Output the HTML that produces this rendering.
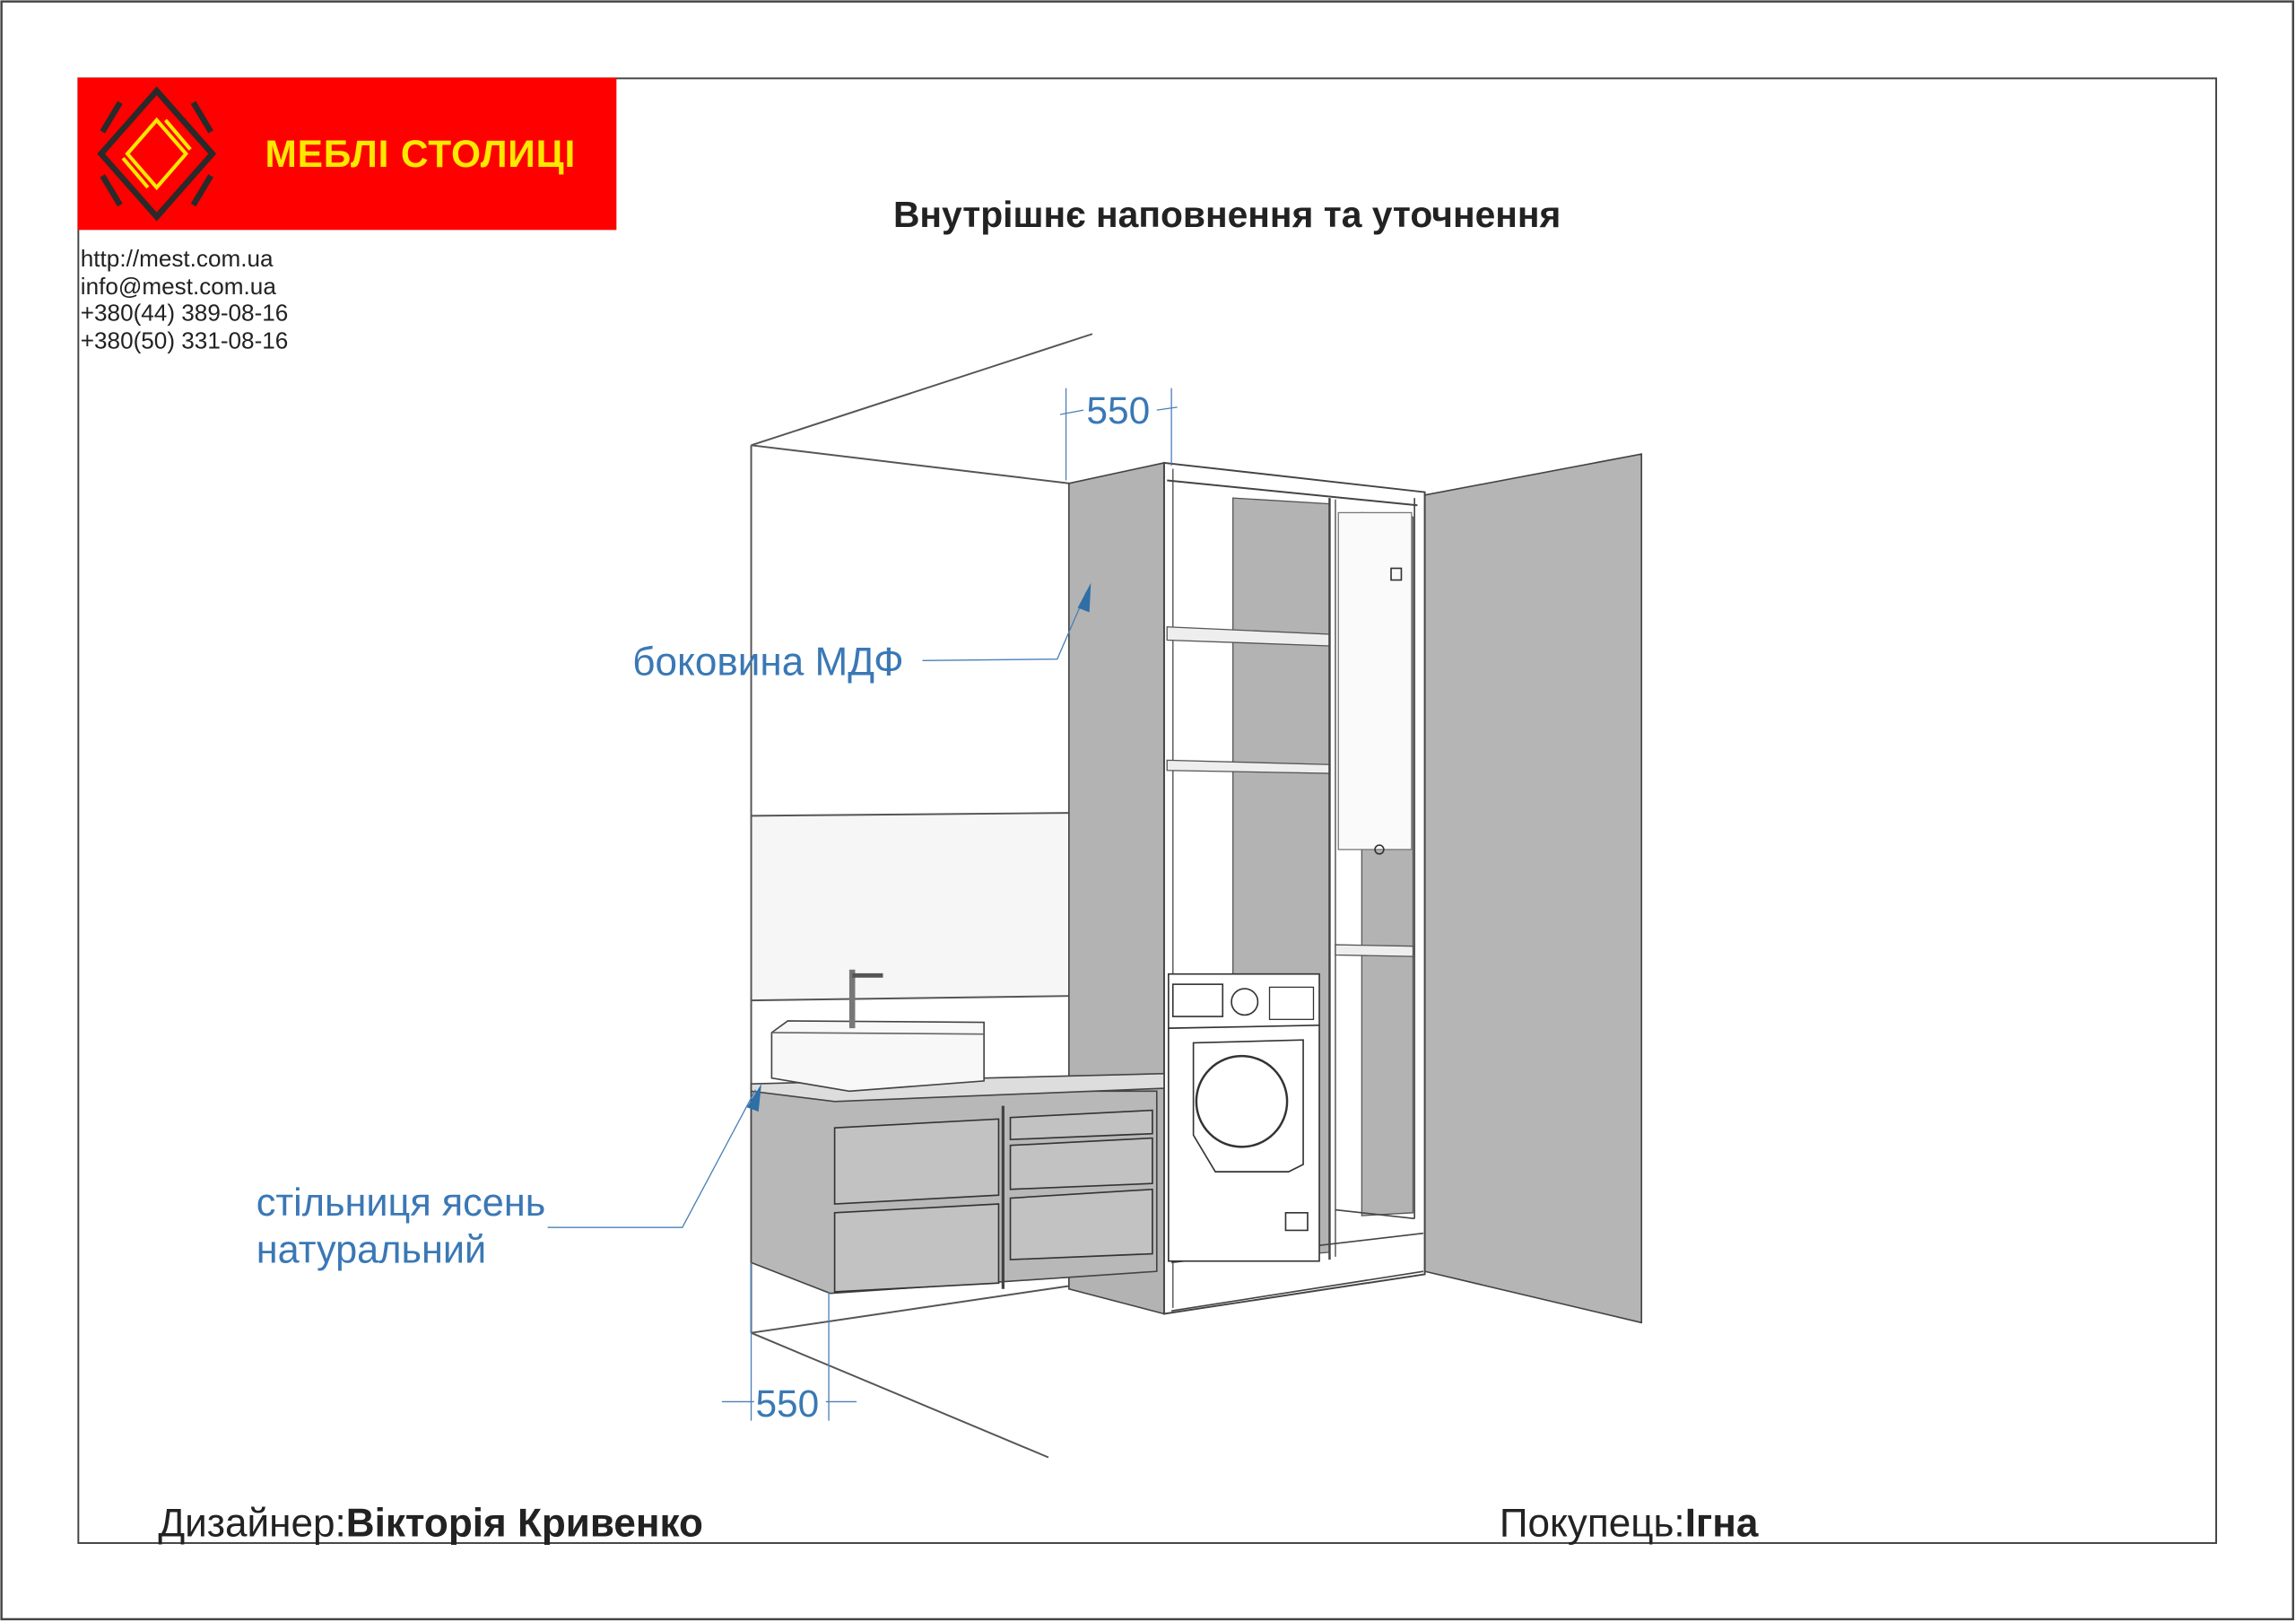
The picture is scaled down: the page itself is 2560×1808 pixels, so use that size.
<!DOCTYPE html>
<html><head><meta charset="utf-8"><style>
html,body{margin:0;padding:0;background:#fff;}
svg{display:block;}
text{font-family:"Liberation Sans","DejaVu Sans",sans-serif;}
</style></head><body>
<svg width="2560" height="1808" viewBox="0 0 1568 1107.4" xmlns="http://www.w3.org/2000/svg">
<rect x="0" y="0" width="1568" height="1107.4" fill="#fff"/>
<rect x="1" y="1" width="1565" height="1104.5" fill="none" stroke="#444" stroke-width="1.5"/>
<rect x="53.5" y="53.5" width="1460" height="1000" fill="none" stroke="#444" stroke-width="1.2"/>
<!-- logo -->
<rect x="53" y="53" width="368" height="104" fill="#fe0000"/>
<g fill="none" stroke="#2a2a2a" stroke-width="4">
<polygon points="107,62 145,105 107,148 69,105"/>
</g>
<g stroke="#2a2a2a" stroke-width="4">
<line x1="82" y1="70" x2="70" y2="90"/><line x1="132" y1="70" x2="144" y2="90"/>
<line x1="82" y1="140" x2="70" y2="120"/><line x1="132" y1="140" x2="144" y2="120"/>
</g>
<g fill="none" stroke="#ffe800" stroke-width="2.5">
<polygon points="107,82 127,105 107,128 87,105"/>
<line x1="113" y1="82" x2="130" y2="102"/><line x1="101" y1="128" x2="84" y2="108"/>
</g>
<text x="181" y="114" font-size="26" font-weight="bold" fill="#ffe800" letter-spacing="0.5">МЕБЛІ СТОЛИЦІ</text>
<!-- contacts -->
<g font-size="16" fill="#222">
<text x="55" y="182">http://mest.com.ua</text>
<text x="55" y="201">info@mest.com.ua</text>
<text x="55" y="219">+380(44)   389-08-16</text>
<text x="55" y="238">+380(50)   331-08-16</text>
</g>
<text x="838" y="155" font-size="25" font-weight="bold" fill="#222" text-anchor="middle">Внутрішнє наповнення та уточнення</text>
<text x="108" y="1049" font-size="27" fill="#222">Дизайнер:<tspan font-weight="bold">Вікторія Кривенко</tspan></text>
<text x="1024" y="1049" font-size="27" fill="#222">Покупець:<tspan font-weight="bold">Ігна</tspan></text>

<!-- room -->
<polygon points="513,557 730,555 730,680 513,683" fill="#f6f6f6"/>
<g stroke="#555" stroke-width="1.2" fill="none">
<line x1="513" y1="304" x2="746" y2="228"/>
<line x1="513" y1="304" x2="730" y2="330"/>
<line x1="513" y1="304" x2="513" y2="910"/>
<line x1="513" y1="910" x2="716" y2="995"/>
<line x1="513" y1="910" x2="730" y2="878"/>
<line x1="513" y1="557" x2="730" y2="555"/>
<line x1="513" y1="683" x2="730" y2="680"/>
</g>
<!-- right wall -->
<polygon points="973,338 1121,310 1121,903 973,868" fill="#b5b5b5" stroke="#444" stroke-width="1"/>
<!-- tall side panel -->
<polygon points="730,330 795,316 795,897 730,880" fill="#b3b3b3" stroke="#444" stroke-width="1"/>
<!-- cabinet front frame -->
<polygon points="795,316 973,336 973,870 795,897" fill="#fff" stroke="#444" stroke-width="1.2"/>
<line x1="801" y1="320" x2="801" y2="893" stroke="#666"/>
<polygon points="842,340 908,344 908,855 842,860" fill="#b3b3b3" stroke="#555" stroke-width="0.8"/>
<line x1="797" y1="328" x2="968" y2="345" stroke="#444" stroke-width="1.2"/>
<polygon points="797,428 908,433 908,441 797,437" fill="#eee" stroke="#555" stroke-width="0.8"/>
<polygon points="797,519 908,522 908,528 797,526" fill="#eee" stroke="#555" stroke-width="0.8"/>
<line x1="908" y1="340" x2="908" y2="860" stroke="#444" stroke-width="1.5"/>
<line x1="912" y1="341" x2="912" y2="858" stroke="#666"/>
<polygon points="930,350 965,353 965,828 930,830" fill="#b3b3b3" stroke="#555" stroke-width="0.8"/>
<rect x="914" y="350" width="50" height="230" fill="#fafafa" stroke="#777" stroke-width="0.8"/>
<rect x="950" y="388" width="7" height="8" fill="none" stroke="#333"/>
<circle cx="942" cy="580" r="3" fill="none" stroke="#333"/>
<polygon points="912,645 965,646 965,653 912,652" fill="#eee" stroke="#555" stroke-width="0.8"/>
<line x1="966" y1="340" x2="966" y2="832" stroke="#444"/>
<line x1="912" y1="826" x2="966" y2="832" stroke="#444"/>
<line x1="800" y1="895" x2="972" y2="868" stroke="#444"/>
<line x1="800" y1="862" x2="972" y2="842" stroke="#444"/>
<!-- washing machine -->
<rect x="798" y="665" width="103" height="196" fill="#fff" stroke="#333" stroke-width="1"/>
<line x1="798" y1="702" x2="901" y2="700" stroke="#333"/>
<rect x="801" y="672" width="34" height="22" fill="none" stroke="#333"/>
<circle cx="850" cy="684" r="9" fill="none" stroke="#333"/>
<rect x="867" y="674" width="30" height="22" fill="none" stroke="#333" stroke-width="0.8"/>
<polygon points="815,712 890,710 890,795 880,800 830,800 815,775" fill="none" stroke="#333"/>
<circle cx="848" cy="752" r="31" fill="none" stroke="#333" stroke-width="1.5"/>
<rect x="878" y="828" width="15" height="12" fill="none" stroke="#333"/>
<!-- vanity -->
<polygon points="513,745 790,745 790,868 567,883 513,862" fill="#b8b8b8" stroke="#444"/>
<polygon points="513,740 795,733 795,743 570,752 513,745" fill="#ddd" stroke="#444"/>
<g fill="#c2c2c2" stroke="#333" stroke-width="1">
<polygon points="570,770 682,764 682,816 570,822"/>
<polygon points="570,828 682,822 682,876 570,882"/>
<polygon points="690,763 787,758 787,774 690,778"/>
<polygon points="690,782 787,777 787,808 690,812"/>
<polygon points="690,818 787,812 787,856 690,860"/>
</g>
<line x1="685" y1="755" x2="685" y2="880" stroke="#444" stroke-width="2"/>
<polygon points="527,705 538,697 672,698 672,738 580,745 527,736" fill="#f8f8f8" stroke="#444"/>
<line x1="527" y1="705" x2="672" y2="706" stroke="#666"/>
<rect x="580" y="662" width="4" height="40" fill="#777"/>
<line x1="582" y1="666" x2="603" y2="666" stroke="#555" stroke-width="3"/>
<!-- dimensions -->
<g stroke="#4a80b5" stroke-width="0.8" fill="none">
<line x1="728" y1="265" x2="728" y2="328"/>
<line x1="800" y1="265" x2="800" y2="318"/>
<line x1="724" y1="283" x2="740" y2="280"/><line x1="790" y1="280" x2="804" y2="278"/>
<line x1="513" y1="862" x2="513" y2="970"/>
<line x1="566" y1="882" x2="566" y2="970"/>
<line x1="493" y1="957" x2="515" y2="957"/><line x1="564" y1="957" x2="585" y2="957"/>
<polyline points="630,451 722,450 742,404"/>
<polyline points="374,838 466,838 516,744"/>
</g>
<polygon points="745,398 736,415 744,418" fill="#2f6fa6"/>
<polygon points="520,740 510,756 518,759" fill="#2f6fa6"/>
<g fill="#3a78b5">
<text x="742" y="289" font-size="26">550</text>
<text x="516" y="967" font-size="26">550</text>
<text x="432" y="461" font-size="27">боковина МДФ</text>
<text x="175" y="830" font-size="26.5">стільниця ясень</text>
<text x="175" y="862" font-size="26.5">натуральний</text>
</g>
</svg>
</body></html>
